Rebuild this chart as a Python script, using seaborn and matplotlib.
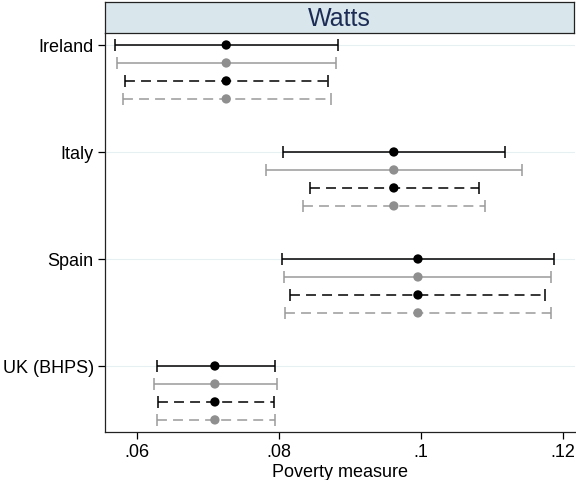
import numpy as np
import pandas as pd
import matplotlib
matplotlib.use("Agg")
import matplotlib.pyplot as plt
import seaborn as sns

# Data
countries = ["Ireland", "Italy", "Spain", "UK (BHPS)"]
series = ["s1", "s2", "s3", "s4"]  # black solid, gray solid, black dashed, gray dashed

point = [0.0726, 0.0962, 0.0996, 0.0710]

lo_s1 = [0.0570, 0.0806, 0.0805, 0.0628]
hi_s1 = [0.0883, 0.1119, 0.1187, 0.0794]
lo_s2 = [0.0572, 0.0782, 0.0807, 0.0624]
hi_s2 = [0.0881, 0.1143, 0.1184, 0.0798]
lo_s3 = [0.0584, 0.0844, 0.0816, 0.0630]
hi_s3 = [0.0870, 0.1082, 0.1175, 0.0793]
lo_s4 = [0.0580, 0.0834, 0.0809, 0.0628]
hi_s4 = [0.0873, 0.1091, 0.1183, 0.0794]

lows = [lo_s1, lo_s2, lo_s3, lo_s4]
highs = [hi_s1, hi_s2, hi_s3, hi_s4]

# Long table
rows = []
for k, s in enumerate(series):
    for i, c in enumerate(countries):
        rows.append({"country": c, "series": s, "pos": i + 0.168 * k,
                     "est": point[i], "lo": lows[k][i], "hi": highs[k][i]})
df = pd.DataFrame(rows)

sns.set_style("white")
plt.rcParams["font.family"] = ["Liberation Sans", "DejaVu Sans"]
plt.rcParams["text.color"] = "black"
plt.rcParams["axes.labelcolor"] = "black"
plt.rcParams["xtick.color"] = "black"
plt.rcParams["ytick.color"] = "black"

styles = {
    "s1": dict(color="black", ls="-", mc="black"),
    "s2": dict(color="#9a9a9a", ls="-", mc="#8f8f8f"),
    "s3": dict(color="black", ls=(0, (6.5, 4)), mc="black"),
    "s4": dict(color="#9a9a9a", ls=(0, (6.5, 4)), mc="#8f8f8f"),
}

fig = plt.figure(figsize=(5.76, 4.81), dpi=100)
ax = fig.add_axes([0.182, 0.0998, 0.816, 0.8295])

# faint horizontal grid at country positions
for i in range(len(countries)):
    ax.axhline(i, color="#e6eff2", lw=0.8, zorder=0)

for s in series:
    d = df[df["series"] == s]
    st = styles[s]
    eb = ax.errorbar(d["est"], d["pos"],
                     xerr=[d["est"] - d["lo"], d["hi"] - d["est"]],
                     fmt="none", ecolor=st["color"], elinewidth=1.1,
                     capsize=4, capthick=1.1, zorder=2)
    eb[2][0].set_linestyle(st["ls"])

sns.scatterplot(data=df, x="est", y="pos", hue="series",
                palette={s: styles[s]["mc"] for s in series},
                s=45, edgecolor="none", legend=False, ax=ax, zorder=3)

ax.set_xlim(0.0555, 0.1217)
ax.set_ylim(3.617, -0.112)
ax.set_xticks([0.06, 0.08, 0.10, 0.12])
ax.set_xticklabels([".06", ".08", ".1", ".12"])
ax.set_yticks(range(len(countries)))
ax.set_yticklabels(countries)
ax.set_xlabel("Poverty measure", fontsize=13, labelpad=2)
ax.set_ylabel("")
ax.tick_params(axis="both", labelsize=13, length=5, width=0.9,
               direction="out", pad=3)
ax.tick_params(axis="x", bottom=True)
ax.tick_params(axis="y", left=True)
for side in ["top", "right"]:
    ax.spines[side].set_visible(False)
for side in ["left", "bottom"]:
    ax.spines[side].set_color("#222222")
    ax.spines[side].set_linewidth(0.9)

# title strip
strip = fig.add_axes([0.182, 0.929, 0.815, 0.065])
strip.set_facecolor("#d9e6ec")
strip.set_xticks([])
strip.set_yticks([])
for sp in strip.spines.values():
    sp.set_color("#222222")
    sp.set_linewidth(0.9)
strip.text(0.5, 0.5, "Watts", ha="center", va="center",
           fontsize=18, color="#1c2c55", transform=strip.transAxes)

fig.savefig("out.png", dpi=100)
